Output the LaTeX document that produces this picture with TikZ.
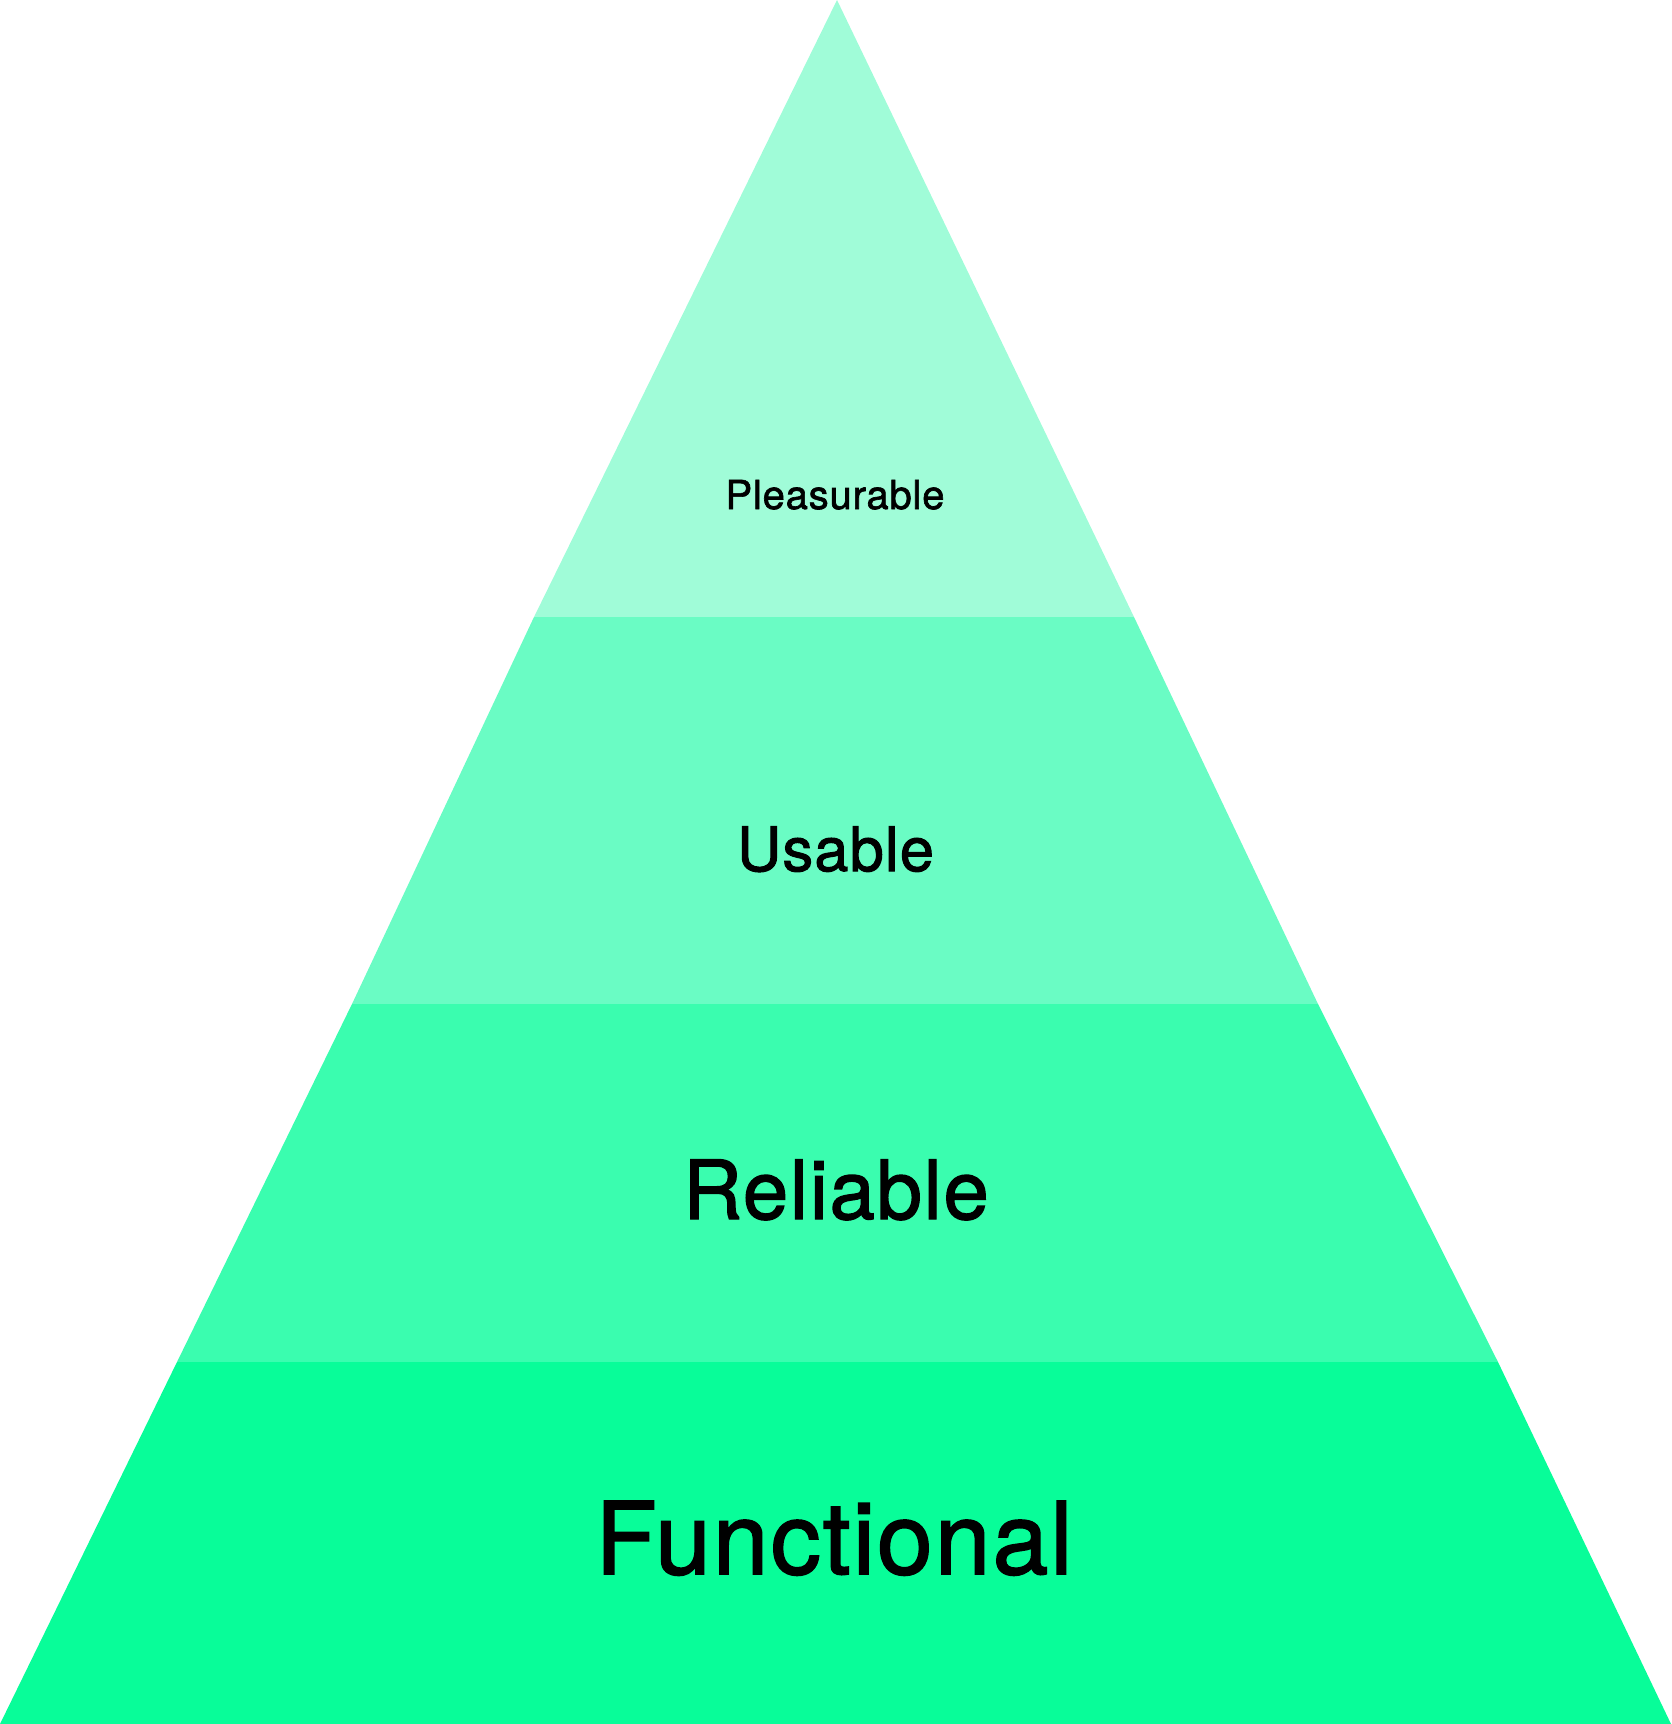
\documentclass[tikz,border=0pt]{standalone}
\usepackage{fontspec}
\setmainfont[FakeBold=1.6, LetterSpace=2]{TeX Gyre Heros}
\definecolor{toplayer}{RGB}{160,252,216}
\definecolor{usablelayer}{RGB}{106,252,196}
\definecolor{reliablelayer}{RGB}{58,253,175}
\definecolor{baselayer}{RGB}{8,253,153}
\tikzset{
	layer/.style={fill=#1, draw=none},
	label/.style={anchor=base, inner sep=0pt, text=black}
}
\begin{document}
\begin{tikzpicture}[x=1pt, y=-1pt]
		\useasboundingbox (0,0) rectangle (1671,1724);
		\coordinate (apex) at (837,0);
		\coordinate (l1) at (534,617);
		\coordinate (r1) at (1134,617);
		\coordinate (l2) at (352,1004);
		\coordinate (r2) at (1318,1004);
		\coordinate (l3) at (177,1362);
		\coordinate (r3) at (1498,1362);
		\coordinate (l4) at (0,1724);
		\coordinate (r4) at (1671,1724);
		\fill[layer=toplayer] (apex) -- (r1) -- (l1) -- cycle;
		\fill[layer=usablelayer] (l1) -- (r1) -- (r2) -- (l2) -- cycle;
		\fill[layer=reliablelayer] (l2) -- (r2) -- (r3) -- (l3) -- cycle;
		\fill[layer=baselayer] (l3) -- (r3) -- (r4) -- (l4) -- cycle;
		\node[label, font=\fontsize{40}{48}\selectfont] (pleasurable) at (835,509) {Pleasurable};
		\node[label, font=\fontsize{61.3}{72}\selectfont] (usable) at (835.5,871) {Usable};
		\node[label, font=\fontsize{81.7}{96}\selectfont] (reliable) at (836,1219) {Reliable};
		\node[label, font=\fontsize{100.3}{120}\selectfont] (functional) at (834,1574) {Functional};
		\end{tikzpicture}
\end{document}
